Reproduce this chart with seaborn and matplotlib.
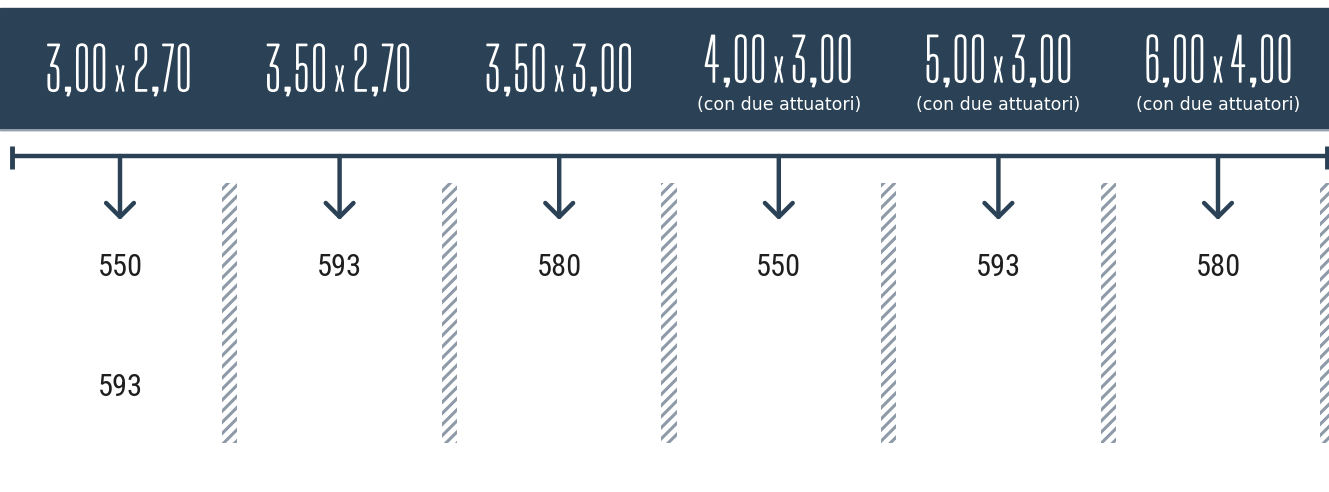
import matplotlib
matplotlib.use("Agg")
import matplotlib.pyplot as plt
import matplotlib.patheffects as pe
import seaborn as sns
import pandas as pd
import numpy as np

# chart data
widths = ["3,00", "3,50", "3,50", "4,00", "5,00", "6,00"]
depths = ["2,70", "2,70", "3,00", "3,00", "3,00", "4,00"]
notes = ["", "", "", "(con due attuatori)", "(con due attuatori)", "(con due attuatori)"]
row1 = [550, 593, 580, 550, 593, 580]
row2 = [593, None, None, None, None, None]

NAVY = "#2b4256"
WALL = "#8e9aa7"
HEAD = ["Big Shoulders Display", "DejaVu Sans"]
NUM = ["Roboto Condensed", "Archivo Narrow", "DejaVu Sans"]

sns.set_theme(style="white")
plt.rcParams["hatch.color"] = WALL
plt.rcParams["hatch.linewidth"] = 2.2

fig = plt.figure(figsize=(13.29, 4.92), dpi=100)
ax = fig.add_axes([0, 0, 1, 1])

n = len(widths)
idx = np.arange(n)

# separating walls (hatched)
walls = pd.DataFrame({"pos": idx + 0.5, "h": [260] * n})
sns.barplot(data=walls, x="pos", y="h", native_scale=True, width=0.07,
            bottom=183, facecolor="none", edgecolor=WALL, linewidth=0,
            hatch="///", ax=ax)
ax.set_xlim(-120 / 219.6, (1329 - 120) / 219.6)
ax.set_ylim(492, 0)
ax.axis("off")

# header band
ax.axhspan(8, 130, color=NAVY, zorder=0)
ax.axhline(130, color="#a9b3bd", lw=1.2, zorder=1)

# main bar with end caps
x0, x1 = -108 / 219.6, 1207 / 219.6
ax.plot([x0, x1], [156, 156], color=NAVY, lw=3.2, solid_capstyle="butt")
ax.vlines([x0, x1], 146, 169, color=NAVY, lw=3.5)

gap = 0.055
bold = [pe.withStroke(linewidth=1.1, foreground="white")]
for i in idx:
    # heading
    base = 82 if notes[i] else 91
    kw = dict(color="white", fontsize=42, family=HEAD, fontweight=300,
              va="baseline", path_effects=bold)
    ax.text(i - gap, base, widths[i], ha="right", **kw)
    ax.text(i, base, "x", ha="center", **{**kw, "fontsize": 30})
    ax.text(i + gap, base, depths[i], ha="left", **kw)
    if notes[i]:
        ax.text(i, 105, notes[i], color="white", fontsize=12.5, family="DejaVu Sans",
                ha="center", va="center")

    # arrow
    ax.annotate("", xy=(i, 220), xytext=(i, 156),
                arrowprops=dict(arrowstyle="->,head_length=0.5,head_width=0.5",
                                color=NAVY, lw=3.2, mutation_scale=20,
                                shrinkA=0, shrinkB=0))

    # values
    ax.text(i, 267, str(row1[i]), color="#1e1e1e", fontsize=22, family=NUM,
            ha="center", va="center")
    if row2[i] is not None:
        ax.text(i, 388, str(row2[i]), color="#1e1e1e", fontsize=22, family=NUM,
                ha="center", va="center")

fig.savefig("out.png", dpi=100)
